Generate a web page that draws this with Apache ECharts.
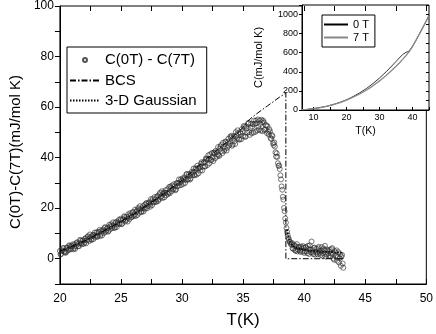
<!DOCTYPE html>
<html lang="en">
<head>
<meta charset="UTF-8">
<title>C(0T)-C(7T)</title>
<script src="https://cdn.jsdelivr.net/npm/echarts@6/dist/echarts.min.js"></script>
<style>
    html, body { margin: 0; padding: 0; background: #fff; }
    #main { width: 436px; height: 334px; }
</style>
</head>
<body>
<div id="main"></div>
<script>
    // measured points, [T(K), C(0T)-C(7T)]
    var diffPts = [
        [20.0,3.1],[20.1,1.9],[20.2,3.2],[20.3,4.1],[20.4,2.8],[20.5,2.6],[20.6,4.4],[20.7,3.7],[20.8,5.0],[20.9,3.7],
        [21.0,4.9],[21.1,3.7],[21.2,5.7],[21.3,4.9],[21.4,6.5],[21.5,5.0],[21.6,6.1],[21.7,7.1],[21.8,5.7],[21.9,7.2],
        [22.0,6.4],[22.1,8.1],[22.2,7.3],[22.3,8.9],[22.4,7.0],[22.5,8.5],[22.6,7.4],[22.7,9.4],[22.8,9.4],[22.9,8.7],
        [23.0,10.5],[23.1,9.0],[23.2,10.5],[23.3,9.0],[23.4,11.1],[23.5,10.8],[23.6,10.2],[23.7,12.5],[23.8,11.1],[23.9,12.3],
        [24.0,11.1],[24.1,12.8],[24.2,13.6],[24.3,12.2],[24.4,13.2],[24.5,12.3],[24.6,14.4],[24.7,13.6],[24.8,15.3],[24.9,13.7],
        [25.0,15.4],[25.1,13.9],[25.2,15.6],[25.3,16.5],[25.4,15.2],[25.5,15.8],[25.6,17.6],[25.7,15.7],[25.8,17.2],[25.9,16.6],
        [26.0,18.5],[26.1,17.4],[26.2,16.9],[26.3,19.0],[26.4,20.1],[26.5,18.2],[26.6,19.5],[26.7,18.6],[26.8,20.8],[26.9,19.9],
        [27.0,19.8],[27.1,22.0],[27.2,20.9],[27.3,22.3],[27.4,20.6],[27.5,22.7],[27.6,23.6],[27.7,22.3],[27.8,23.5],[27.9,22.5],
        [28.0,24.9],[28.1,23.5],[28.2,26.1],[28.3,24.7],[28.4,24.0],[28.5,26.2],[28.6,26.1],[28.7,25.1],[28.8,27.5],[28.9,26.2],
        [29.0,25.9],[29.1,28.0],[29.2,29.0],[29.3,27.4],[29.4,28.6],[29.5,27.4],[29.6,30.0],[29.7,29.9],[29.8,29.0],[29.9,31.4],
        [30.0,31.0],[30.1,29.6],[30.2,32.2],[30.3,31.2],[30.4,33.5],[30.5,31.4],[30.6,32.8],[30.7,31.8],[30.8,34.4],[30.9,34.0],
        [31.0,33.2],[31.1,35.8],[31.2,33.3],[31.3,35.8],[31.4,35.7],[31.5,34.9],[31.6,38.2],[31.7,36.4],[31.8,38.3],[31.9,36.5],
        [32.0,39.5],[32.1,37.1],[32.2,39.5],[32.3,41.3],[32.4,39.0],[32.5,40.1],[32.6,42.0],[32.7,39.7],[32.8,42.2],[32.9,41.3],
        [33.0,41.0],[33.1,43.6],[33.2,45.0],[33.3,41.8],[33.4,44.2],[33.5,43.5],[33.6,46.2],[33.7,43.9],[33.8,47.5],[33.9,45.5],
        [34.0,47.9],[34.1,44.7],[34.2,47.6],[34.3,46.5],[34.4,50.1],[34.5,47.6],[34.6,49.7],[34.7,47.1],[34.8,49.5],[34.9,51.3],
        [35.0,48.5],[35.1,52.2],[35.2,48.2],[35.3,51.6],[35.4,53.4],[35.5,50.1],[35.6,51.8],[35.7,49.7],[35.8,53.3],[35.9,54.7],
        [36.0,50.2],[36.1,53.6],[36.2,55.1],[36.3,51.1],[36.4,53.3],[36.5,55.0],[36.6,50.5],[36.7,53.9],[36.8,51.3],[36.9,52.8],
        [37.0,52.4],[37.1,49.1],[37.2,50.4],[37.3,47.4],[37.4,48.5],[37.5,45.0],[37.6,44.4],[37.7,40.4],[37.8,40.3],[37.9,36.7],
        [38.00,35.5],[38.05,33.0],[38.10,31.4],[38.15,28.6],[38.20,27.3],[38.25,24.5],[38.30,23.4],[38.35,20.1],[38.40,18.8],[38.45,15.9],
        [38.50,14.3],[38.55,12.2],[38.60,10.6],[38.65,9.3],[38.70,8.2],[38.75,7.6],[38.80,6.8],[38.85,6.5],[38.90,5.9],[38.95,5.6],
        [39.0,6.2],[39.1,3.9],[39.2,5.1],[39.3,3.1],[39.4,5.8],[39.5,3.6],[39.6,4.7],[39.7,2.7],[39.8,4.0],[39.9,5.0],
        [40.0,2.3],[40.1,4.5],[40.2,2.9],[40.3,5.1],[40.4,1.9],[40.5,3.6],[40.6,6.8],[40.7,2.4],[40.8,4.2],[40.9,1.6],
        [41.0,3.9],[41.1,1.7],[41.2,4.7],[41.3,2.3],[41.4,3.2],[41.5,1.2],[41.6,3.9],[41.7,5.1],[41.8,1.7],[41.9,3.2],
        [42.0,1.1],[42.1,3.6],[42.2,2.1],[42.3,4.2],[42.4,0.1],[42.5,3.0],[42.6,1.2],[42.7,-0.8],[42.8,2.6],[42.9,0.3],
        [43.0,-2.8],[43.05,0.8],[43.1,1.5],[43.15,-1.9],[43.2,-3.6]
    ];

    // second sweep, taken between the first one
    var diffPtsB = [
        [20.05,1.7],[20.15,3.3],[20.25,4.2],[20.35,2.8],[20.45,2.3],[20.55,4.4],[20.65,3.2],[20.75,5.3],[20.85,4.0],[20.95,5.1],
        [21.05,5.7],[21.15,4.3],[21.25,3.9],[21.35,6.2],[21.45,5.8],[21.55,4.9],[21.65,7.5],[21.75,6.1],[21.85,7.2],[21.95,5.9],
        [22.05,7.9],[22.15,6.1],[22.25,8.6],[22.35,7.6],[22.45,9.6],[22.55,7.7],[22.65,9.0],[22.75,7.8],[22.85,10.3],[22.95,9.1],
        [23.05,8.6],[23.15,10.6],[23.25,11.4],[23.35,9.9],[23.45,9.2],[23.55,11.5],[23.65,12.2],[23.75,10.6],[23.85,11.9],[23.95,10.7],
        [24.05,13.5],[24.15,11.8],[24.25,12.9],[24.35,14.4],[24.45,12.2],[24.55,14.4],[24.65,12.5],[24.75,14.5],[24.85,13.9],[24.95,15.8],
        [25.05,13.7],[25.15,15.5],[25.25,16.8],[25.35,14.7],[25.45,16.5],[25.55,14.7],[25.65,16.8],[25.75,18.0],[25.85,16.4],[25.95,18.3],
        [26.05,16.9],[26.15,19.4],[26.25,18.6],[26.35,17.3],[26.45,19.6],[26.55,20.8],[26.65,18.5],[26.75,20.0],[26.85,18.7],[26.95,21.4],
        [27.05,21.9],[27.15,20.0],[27.25,21.9],[27.35,21.4],[27.45,23.6],[27.55,21.2],[27.65,22.4],[27.75,24.4],[27.85,22.6],[27.95,24.5],
        [28.05,22.9],[28.15,25.5],[28.25,24.2],[28.35,26.7],[28.45,25.7],[28.55,24.3],[28.65,27.1],[28.75,26.1],[28.85,25.6],[28.95,28.4],
        [29.05,28.6],[29.15,26.7],[29.25,27.7],[29.35,29.5],[29.45,27.1],[29.55,29.8],[29.65,28.7],[29.75,31.4],[29.85,30.2],[29.95,29.2],
        [30.05,31.8],[30.15,31.4],[30.25,30.0],[30.35,33.4],[30.45,31.3],[30.55,33.5],[30.65,31.3],[30.75,33.8],[30.85,33.1],[30.95,35.7],
        [31.05,33.0],[31.15,35.5],[31.25,36.8],[31.35,33.8],[31.45,36.2],[31.55,37.6],[31.65,34.9],[31.75,37.9],[31.85,36.6],[31.95,39.7],
        [32.05,39.3],[32.15,40.9],[32.25,37.8],[32.35,39.1],[32.45,41.8],[32.55,38.6],[32.65,41.8],[32.75,42.7],[32.85,40.4],[32.95,44.2],
        [33.05,40.7],[33.15,44.4],[33.25,42.6],[33.35,45.9],[33.45,42.7],[33.55,46.4],[33.65,42.8],[33.75,46.1],[33.85,44.8],[33.95,48.4],
        [34.05,48.6],[34.15,45.2],[34.25,48.5],[34.35,45.4],[34.45,48.7],[34.55,50.8],[34.65,47.3],[34.75,50.1],[34.85,47.3],[34.95,50.2],
        [35.05,52.5],[35.15,48.4],[35.25,52.2],[35.35,49.8],[35.45,53.8],[35.55,49.0],[35.65,53.4],[35.75,52.3],[35.85,49.9],[35.95,53.4],
        [36.05,54.6],[36.15,50.7],[36.25,52.2],[36.35,54.7],[36.45,50.7],[36.55,54.0],[36.65,54.6],[36.75,50.9],[36.85,52.8],[36.95,49.7],
        [37.05,50.2],[37.15,51.2],[37.25,47.8],[37.35,48.9],[37.45,45.7],[37.55,46.0],[37.65,42.1],[37.75,41.7],[37.85,37.8],[37.95,36.9],
        [39.05,4.1],[39.15,5.6],[39.25,3.4],[39.35,4.9],[39.45,2.9],[39.55,4.5],[39.65,3.3],[39.75,4.8],[39.85,2.8],[39.95,4.3],
        [40.05,3.0],[40.15,4.6],[40.25,2.2],[40.35,3.9],[40.45,5.3],[40.55,2.6],[40.65,3.5],[40.75,1.8],[40.85,4.4],[40.95,2.7],
        [41.05,2.4],[41.15,4.1],[41.25,3.0],[41.35,1.5],[41.45,4.6],[41.55,2.2],[41.65,3.4],[41.75,0.9],[41.85,3.7],[41.95,2.0],
        [42.05,2.9],[42.15,1.0],[42.25,3.8],[42.35,1.9],[42.45,-0.4],[42.55,2.4],[42.65,3.3],[42.75,0.6],[42.85,-1.5],[42.95,1.8]
    ];

    // BCS fit
    var bcsT = [20, 22, 24, 26, 28, 30, 32, 34, 35, 35.5, 36, 37, 38, 38.5, 38.5, 43.2];
    var bcsC = [3, 7, 12, 17.5, 24, 31, 39.5, 47.5, 52, 55, 57, 60.5, 64, 65.5, 0, 0];

    // 3-D Gaussian fluctuation fit
    var gaussT = [38.6, 38.7, 38.8, 38.9, 39.0, 39.2, 39.4, 39.7, 40.0, 40.5, 41.0, 41.5, 42.0, 42.5, 43.0, 43.2];
    var gaussC = [11.5, 8.6, 7.0, 6.0, 5.3, 4.6, 4.2, 3.8, 3.5, 3.2, 3.0, 2.8, 2.7, 2.5, 2.4, 2.3];

    // inset: total specific heat
    var insetT = [6.5, 8, 10, 12, 14, 16, 18, 20, 22, 24, 26, 28, 30, 32, 34, 35, 36, 37, 37.5, 38, 38.5, 39, 40, 41, 42, 43, 44, 45];
    var c0T = [3, 6, 15, 26, 40, 58, 80, 107, 141, 180, 224, 277, 335, 400, 471, 508, 545, 581, 596, 603, 604, 617, 668, 727, 792, 857, 922, 992];
    var c7T = [3, 6, 14, 25, 39, 56, 78, 104, 134, 168, 207, 253, 305, 362, 425, 458, 493, 530, 550, 568, 590, 612, 665, 725, 790, 855, 920, 990];

    var mainXTicks = [20, 25, 30, 35, 40, 45, 50];
    var insetXLabels = [10, 20, 30, 40];
    var insetXTicks = [10, 15, 20, 25, 30, 35, 40, 45];

    function zip(xs, ys) {
        var out = [];
        for (var i = 0; i < xs.length; i++) out.push([xs[i], ys[i]]);
        return out;
    }

    var font = "'Liberation Sans', Arial, sans-serif";
    // legend line icons only: hide the symbol ECharts puts in the middle
    var noDot = { color: 'rgba(0,0,0,0)', borderWidth: 0 };
    var myChart = echarts.init(document.getElementById('main'));
    var option = {
        animation: false,
        textStyle: { fontFamily: font, color: '#000' },
        grid: [
            { left: 51, right: 7, top: 5, bottom: 48, show: true, borderColor: '#000', borderWidth: 1 },
            { left: 302, right: 7, top: 5, height: 105, show: true, borderColor: '#000', borderWidth: 1,
              backgroundColor: '#fff', z: 10 }
        ],
        legend: [
            {
                orient: 'vertical', left: 67, top: 47,
                itemWidth: 30, itemHeight: 14, itemGap: 5,
                padding: [5, 10, 5, 2],
                borderColor: '#000', borderWidth: 1,
                textStyle: { fontSize: 15, color: '#000', fontFamily: font },
                data: [
                    { name: 'C(0T) - C(7T)', icon: 'path://M0,0M30,14M17,7a2,2,0,1,1,-4,0a2,2,0,1,1,4,0Z' },
                    'BCS', '3-D Gaussian'
                ]
            },
            {
                orient: 'vertical', left: 322, top: 15, z: 20,
                itemWidth: 24, itemHeight: 10, itemGap: 2,
                padding: [4, 6, 4, 1],
                borderColor: '#000', borderWidth: 1, backgroundColor: '#fff',
                textStyle: { fontSize: 11, color: '#000', fontFamily: font },
                data: ['0 T', '7 T']
            }
        ],
        xAxis: [
            {
                gridIndex: 0, type: 'value', min: 20, max: 50, interval: 2.5,
                name: 'T(K)', nameLocation: 'middle', nameGap: 28,
                nameTextStyle: { fontSize: 17, color: '#000' },
                axisLine: { onZero: false, lineStyle: { color: '#000' } },
                axisTick: { inside: true, length: 5, lineStyle: { color: '#000' } },
                axisLabel: { fontSize: 12, color: '#000', margin: 9,
                    formatter: function (v) { return mainXTicks.indexOf(v) >= 0 ? v : ''; } },
                splitLine: { show: false }
            },
            {
                gridIndex: 0, type: 'value', position: 'top', min: 20, max: 50, interval: 2.5, z: 15,
                axisLine: { show: false, onZero: false },
                axisTick: { inside: true, length: 5, lineStyle: { color: '#000' } },
                axisLabel: { show: false },
                splitLine: { show: false }
            },
            {
                gridIndex: 1, type: 'value', min: 6.5, max: 45, z: 12,
                name: 'T(K)', nameLocation: 'middle', nameGap: 16,
                nameTextStyle: { fontSize: 10.5, color: '#000' },
                axisLine: { onZero: false, lineStyle: { color: '#000' } },
                axisTick: { inside: true, length: 3, customValues: insetXTicks, lineStyle: { color: '#000' } },
                axisLabel: { fontSize: 9, color: '#000', margin: 3, customValues: insetXLabels },
                splitLine: { show: false }
            }
        ],
        yAxis: [
            {
                gridIndex: 0, type: 'value', min: -10, max: 100, interval: 10,
                name: 'C(0T)-C(7T)(mJ/mol K)', nameLocation: 'middle', nameGap: 30,
                nameTextStyle: { fontSize: 15, color: '#000', padding: [0, 14, 0, 0] },
                axisLine: { onZero: false, lineStyle: { color: '#000' } },
                axisTick: { length: 5, lineStyle: { color: '#000' } },
                axisLabel: { fontSize: 12, color: '#000', margin: 6,
                    formatter: function (v) { return v % 20 === 0 ? v : ''; } },
                splitLine: { show: false }
            },
            {
                gridIndex: 1, type: 'value', min: 0, max: 1100, interval: 200, z: 12,
                name: 'C(mJ/mol K)', nameLocation: 'middle', nameGap: 38,
                nameTextStyle: { fontSize: 11, color: '#000' },
                axisLine: { onZero: false, lineStyle: { color: '#000' } },
                axisTick: { length: 3, lineStyle: { color: '#000' } },
                axisLabel: { fontSize: 9, color: '#000', margin: 4,
                    formatter: function (v) { return v <= 1000 ? v : ''; } },
                splitLine: { show: false }
            },
            {
                gridIndex: 1, type: 'value', position: 'right', min: 0, max: 1100, interval: 100, z: 12,
                axisLine: { show: false, onZero: false },
                axisTick: { inside: true, length: 3, lineStyle: { color: '#000' } },
                axisLabel: { show: false },
                splitLine: { show: false }
            }
        ],
        series: [
            {
                name: 'C(0T) - C(7T)', type: 'scatter', xAxisIndex: 0, yAxisIndex: 0,
                symbol: 'circle', symbolSize: 5,
                itemStyle: { color: 'rgba(255,255,255,0)', borderColor: '#2a2a2a', borderWidth: 0.8 },
                data: diffPts.concat(diffPtsB)
            },
            {
                name: 'BCS', type: 'line', xAxisIndex: 0, yAxisIndex: 0, symbol: 'none',
                lineStyle: { color: '#000', width: 1, type: [6, 2, 1.5, 2] },
                itemStyle: noDot,
                data: zip(bcsT, bcsC)
            },
            {
                name: '3-D Gaussian', type: 'line', xAxisIndex: 0, yAxisIndex: 0, symbol: 'none',
                lineStyle: { color: '#000', width: 1.5, type: [1.5, 1.5] },
                itemStyle: noDot,
                data: zip(gaussT, gaussC)
            },
            {
                name: '0 T', type: 'line', xAxisIndex: 2, yAxisIndex: 1, symbol: 'none', z: 13,
                lineStyle: { color: '#000', width: 0.8 },
                itemStyle: noDot,
                data: zip(insetT, c0T)
            },
            {
                name: '7 T', type: 'line', xAxisIndex: 2, yAxisIndex: 1, symbol: 'none', z: 13,
                lineStyle: { color: '#888', width: 1.3 },
                itemStyle: noDot,
                data: zip(insetT, c7T)
            }
        ]
    };
    myChart.setOption(option);
</script>
</body>
</html>
